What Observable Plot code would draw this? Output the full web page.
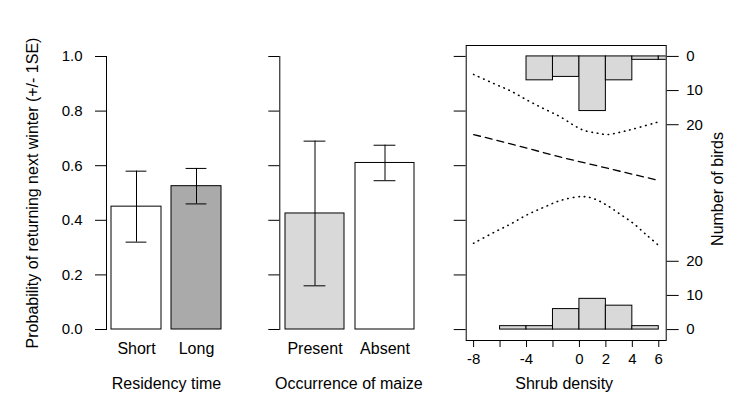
<!DOCTYPE html>
<html>
<head>
<meta charset="utf-8">
<script src="https://cdn.jsdelivr.net/npm/d3@7"></script>
<script src="https://cdn.jsdelivr.net/npm/@observablehq/plot@0.6"></script>
<style>
  html, body { margin: 0; padding: 0; background: white; }
  #chart { position: relative; width: 750px; height: 417px; background: white; overflow: hidden; }
  #chart svg { position: absolute; top: 0; }
</style>
</head>
<body>
<div id="chart"></div>
<script>
// ---------- data ----------
const probTicks = [0, 0.2, 0.4, 0.6, 0.8, 1.0];

const residencyCats = ["Short", "Long"];
const residencyProb = [0.45, 0.525];
const residencyLo = [0.32, 0.46];
const residencyHi = [0.58, 0.59];
const residencyFill = ["white", "#aaaaaa"];

const maizeCats = ["Present", "Absent"];
const maizeProb = [0.425, 0.61];
const maizeLo = [0.16, 0.545];
const maizeHi = [0.69, 0.675];
const maizeFill = ["#d9d9d9", "white"];

const shrubTicks = [-8, -6, -4, -2, 0, 2, 4, 6];
const shrubTickLabels = ["-8", "", "-4", "", "0", "2", "4", "6"];
const birdTicks = [0, 10, 20];
const birdScale = 0.0125; // probability units per bird in the histograms

// returned birds (histogram hanging from p = 1)
const returnedBinLo = [-4, -2, 0, 2, 4, 6];
const returnedBinHi = [-2, 0, 2, 4, 6, 8];
const returnedCounts = [7, 6, 16, 7, 1, 1];
// birds not returned (histogram standing on p = 0)
const absentBinLo = [-6, -4, -2, 0, 2, 4];
const absentBinHi = [-4, -2, 0, 2, 4, 6];
const absentCounts = [1, 1, 6, 9, 7, 1];

// fitted logistic curve and confidence band
const fitX = [-8, -5.2, -1.4, 6];
const fitY = [0.714, 0.68, 0.631, 0.546];
const upperX = [-8, -6.45, -5.18, -3.92, -2.67, -1.41, -0.4, 0.35, 1.36, 2.11, 3.12, 4.12, 5.89];
const upperY = [0.934, 0.9, 0.873, 0.839, 0.808, 0.778, 0.747, 0.729, 0.719, 0.714, 0.723, 0.735, 0.759];
const lowerX = [-8, -6.45, -5.18, -3.92, -2.67, -1.41, 0.22, 1.1, 2.11, 3.12, 4.12, 5.13, 6];
const lowerY = [0.316, 0.356, 0.387, 0.421, 0.448, 0.473, 0.487, 0.479, 0.454, 0.421, 0.387, 0.344, 0.308];

// ---------- tables ----------
const residency = residencyCats.map((c, i) => ({cat: c, p: residencyProb[i], lo: residencyLo[i], hi: residencyHi[i], fill: residencyFill[i]}));
const maize = maizeCats.map((c, i) => ({cat: c, p: maizeProb[i], lo: maizeLo[i], hi: maizeHi[i], fill: maizeFill[i]}));
const returned = returnedCounts.map((n, i) => ({x1: returnedBinLo[i], x2: returnedBinHi[i], n}));
const absent = absentCounts.map((n, i) => ({x1: absentBinLo[i], x2: absentBinHi[i], n}));
const fit = fitX.map((x, i) => ({x, y: fitY[i]}));
const upper = upperX.map((x, i) => ({x, y: upperY[i]}));
const lower = lowerX.map((x, i) => ({x, y: lowerY[i]}));

const font = "'Liberation Sans', Arial, Helvetica, sans-serif";
const baseStyle = {fontFamily: font, fontSize: "15px", color: "black", background: "transparent", overflow: "visible"};

function barPanel({data, width, marginLeft, marginRight, range, paddingInner, capInset, yLabels, xTitle, yTitle}) {
  const marks = [
    Plot.barY(data, {x: "cat", y: "p", fill: "fill", stroke: "black", strokeWidth: 1}),
    Plot.ruleX(data, {x: "cat", y1: "lo", y2: "hi", stroke: "black", strokeWidth: 1}),
    Plot.tickY(data, {x: "cat", y: "lo", stroke: "black", insetLeft: capInset, insetRight: capInset}),
    Plot.tickY(data, {x: "cat", y: "hi", stroke: "black", insetLeft: capInset, insetRight: capInset}),
    Plot.frame({anchor: "left", stroke: "black"}),
    Plot.axisY({anchor: "left", ticks: probTicks, tickSize: 11, tickPadding: 13, fontSize: 15,
      tickFormat: yLabels ? d3.format(".1f") : () => ""}),
    Plot.axisX({anchor: "bottom", tickSize: 0, tickPadding: 13, fontSize: 16}),
    Plot.text([xTitle], {text: d => d, frameAnchor: "bottom", textAnchor: "middle", lineAnchor: "bottom", dy: 59, fontSize: 16})
  ];
  if (yTitle) {
    marks.push(Plot.text([yTitle], {text: d => d, frameAnchor: "left", textAnchor: "middle", lineAnchor: "middle", rotate: -90, dx: -74, fontSize: 16}));
  }
  return Plot.plot({
    width, height: 417, marginLeft, marginRight, marginTop: 56, marginBottom: 88,
    style: baseStyle,
    x: {type: "band", domain: data.map(d => d.cat), range, paddingInner, paddingOuter: 0, label: null},
    y: {domain: [0, 1], label: null},
    color: {type: "identity"},
    marks
  });
}

const p1 = barPanel({data: residency, width: 250, marginLeft: 106, marginRight: 24, range: [110.7, 221], paddingInner: 0.166, capInset: 14.6, yLabels: true, xTitle: "Residency time", yTitle: "Probability of returning next winter (+/- 1SE)"});
p1.style.left = "0px";

const p2 = barPanel({data: maize, width: 190, marginLeft: 29.3, marginRight: 22.7, range: [34.3, 164.3], paddingInner: 0.164, capInset: 18.6, yLabels: false, xTitle: "Occurrence of maize"});
p2.style.left = "250px";

const p3 = Plot.plot({
  width: 310, height: 417, marginLeft: 25.7, marginRight: 84.3, marginTop: 45, marginBottom: 77,
  style: baseStyle,
  x: {domain: [-8.56, 6.56], label: null},
  y: {domain: [-0.04, 1.04], label: null},
  marks: [
    Plot.rect(returned, {x1: "x1", x2: "x2", y1: () => 1, y2: d => 1 - d.n * birdScale, fill: "#d9d9d9", stroke: "black", strokeWidth: 1, clip: true}),
    Plot.rect(absent, {x1: "x1", x2: "x2", y1: () => 0, y2: d => d.n * birdScale, fill: "#d9d9d9", stroke: "black", strokeWidth: 1, clip: true}),
    Plot.line(fit, {x: "x", y: "y", stroke: "black", strokeWidth: 1.3, strokeDasharray: "7,5"}),
    Plot.line(upper, {x: "x", y: "y", curve: "catmull-rom", stroke: "black", strokeWidth: 1.6, strokeDasharray: "0.5,5", strokeLinecap: "round"}),
    Plot.line(lower, {x: "x", y: "y", curve: "catmull-rom", stroke: "black", strokeWidth: 1.6, strokeDasharray: "0.5,5", strokeLinecap: "round"}),
    Plot.frame({stroke: "black"}),
    Plot.axisY({anchor: "left", ticks: probTicks, tickSize: 12, tickFormat: () => ""}),
    Plot.axisX({anchor: "bottom", ticks: shrubTicks, tickSize: 7, tickPadding: 6, fontSize: 15,
      tickFormat: d => shrubTickLabels[shrubTicks.indexOf(d)]}),
    Plot.axisY({anchor: "right", ticks: birdTicks.map(c => 1 - c * birdScale), tickSize: 12, tickPadding: 8, fontSize: 15,
      tickFormat: d => String(Math.round((1 - d) / birdScale))}),
    Plot.axisY({anchor: "right", ticks: birdTicks.map(c => c * birdScale), tickSize: 12, tickPadding: 8, fontSize: 15,
      tickFormat: d => String(Math.round(d / birdScale))}),
    Plot.text(["Shrub density"], {text: d => d, frameAnchor: "bottom", textAnchor: "middle", lineAnchor: "bottom", dx: -2, dy: 48, fontSize: 16}),
    Plot.text(["Number of birds"], {text: d => d, frameAnchor: "right", textAnchor: "middle", lineAnchor: "middle", rotate: -90, dx: 52, dy: -4, fontSize: 16})
  ]
});
p3.style.left = "440px";

const chart = document.getElementById("chart");
chart.append(p1, p2, p3);
</script>
</body>
</html>
